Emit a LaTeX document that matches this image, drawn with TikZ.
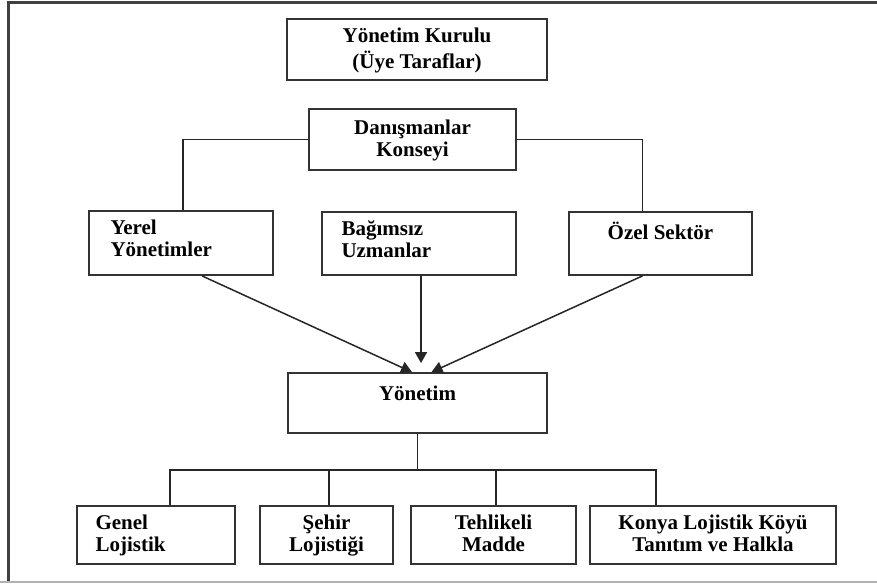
\documentclass[tikz,border=0pt]{standalone}
\usepackage{fontspec}
\setmainfont{Liberation Serif}
\usetikzlibrary{positioning, arrows.meta}
\tikzset{
	orgbox/.style={draw=black!80, line width=0.9pt, inner sep=0pt}
}
\tikzset{
	boxtext/.style={font=\fontsize{10.5}{11}\selectfont\bfseries, inner sep=0pt},
	lowtext/.style={font=\fontsize{10.5}{10}\selectfont\bfseries, inner sep=0pt}
}
\tikzset{
	link/.style={line width=0.75pt, black!85},
	linkarrow/.style={link, -{Triangle[width=6pt,length=5.5pt]}}
}

\begin{document}
\begin{tikzpicture}[x=0.5pt, y=-0.5pt]
  \useasboundingbox (0,0) rectangle (877,583);
  % frame
  \draw[line width=1.1pt, black!75] (8.5,583) -- (8.5,2.5) -- (877,2.5);
  \draw[line width=0.75pt, black!30] (0,582) -- (877,582);
  % upper boxes
  \node[orgbox, minimum width=130pt, minimum height=30.5pt] (kurul) at (417,49.5) {};
  \node[orgbox, minimum width=103.5pt, minimum height=30.5pt] (konsey) at (412.5,139.5) {};
  \node[orgbox, minimum width=92pt, minimum height=32pt] (yerel) at (181,243) {};
  \node[orgbox, minimum width=97pt, minimum height=31.5pt] (uzman) at (419,243.5) {};
  \node[orgbox, minimum width=91.5pt, minimum height=31.5pt] (ozel) at (660.5,243.5) {};
  \node[orgbox, minimum width=129.5pt, minimum height=30pt] (yonetim) at (417.5,403) {};
  \node[boxtext, align=center, below=4.3pt of kurul.north] {\strut Yönetim Kurulu\\(Üye Taraflar)};
  \node[boxtext, align=center, below=5.3pt of konsey.north] {\strut Danışmanlar\\Konseyi};
  \node[boxtext, align=left, below right=4.3pt and 11pt of yerel.north west] {\strut Yerel\\Yönetimler};
  \node[boxtext, align=left, below right=4.3pt and 10pt of uzman.north west] {\strut Bağımsız\\Uzmanlar};
  \node[boxtext, below=5.3pt of ozel.north] {\strut Özel Sektör};
  \node[boxtext, below=6.1pt of yonetim.north] {\strut Yönetim};
  % lower boxes
  \node[orgbox, minimum width=79pt, minimum height=29pt] (genel) at (156,535) {};
  \node[orgbox, minimum width=66.5pt, minimum height=29pt] (sehir) at (326.5,535) {};
  \node[orgbox, minimum width=82.5pt, minimum height=29pt] (tehlike) at (493.5,535) {};
  \node[orgbox, minimum width=123pt, minimum height=29pt] (konya) at (713,535) {};
  \node[lowtext, align=left, below right=4.5pt and 9.5pt of genel.north west] {\strut Genel\\Lojistik};
  \node[lowtext, align=center, below=4.5pt of sehir.north] {\strut Şehir\\Lojistiği};
  \node[lowtext, align=center, below=4.5pt of tehlike.north] {\strut Tehlikeli\\Madde};
  \node[lowtext, align=center, below=4.5pt of konya.north] {\strut Konya Lojistik Köyü\\Tanıtım ve Halkla};
  % connectors
  \draw[link] (konsey.west) -| ([xshift=1pt]yerel.north);
  \draw[link] (konsey.east) -| ([xshift=-9pt]ozel.north);
  \coordinate (tipm) at ([yshift=4.5pt]yonetim.north);
  \draw[linkarrow] ([xshift=10.5pt]yerel.south) -- ([xshift=-2.75pt]yonetim.north);
  \draw[linkarrow] ([xshift=1pt]uzman.south) -- ([xshift=1pt]uzman.south |- tipm);
  \draw[linkarrow] ([xshift=-9pt]ozel.south) -- ([xshift=7pt]yonetim.north);
  \draw[link] (yonetim.south) -- ++(0,36) coordinate (bus);
  \draw[link] (bus) -| ([xshift=7pt]genel.north);
  \draw[link] (bus) -| ([xshift=1.25pt]sehir.north);
  \draw[link] (bus) -| ([xshift=1.25pt]tehlike.north);
  \draw[link] (bus) -| ([xshift=-28.5pt]konya.north);
\end{tikzpicture}
\end{document}
